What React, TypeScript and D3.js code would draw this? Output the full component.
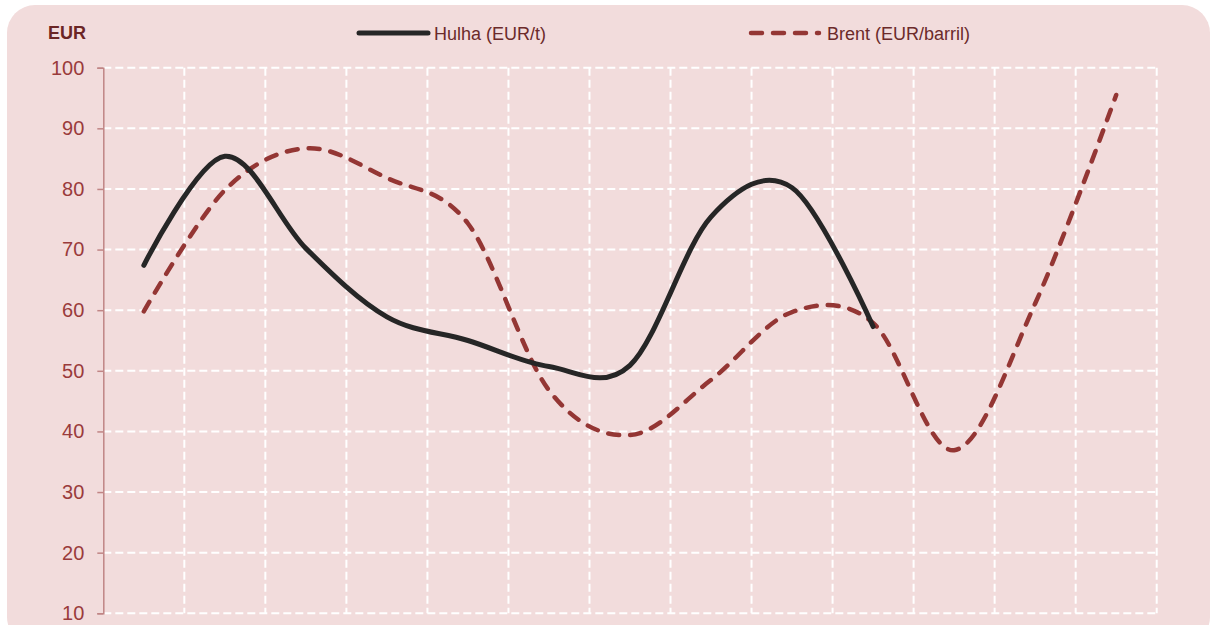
import React, { useEffect, useRef } from 'react';
import * as d3 from 'd3';

// periods along the x axis (the original shows no labels)
const periods = ['P1', 'P2', 'P3', 'P4', 'P5', 'P6', 'P7', 'P8', 'P9', 'P10', 'P11', 'P12', 'P13'];
const hulha = [67.4, 85.4, 70.2, 58.9, 55.0, 50.7, 50.9, 75.4, 80.2, 57.3];
const brent = [59.8, 79.8, 86.7, 81.8, 74.3, 46.8, 39.4, 48.5, 59.7, 57.9, 36.9, 61.1, 95.5];
const yTicks = [10, 20, 30, 40, 50, 60, 70, 80, 90, 100];

const W = 1214;
const H = 625;

export default function App() {
  const svgRef = useRef<SVGSVGElement | null>(null);

  useEffect(() => {
    const svg = d3.select(svgRef.current);
    svg.selectAll('*').remove();

    const x = d3.scaleBand().domain(periods).range([103.3, 1156.7]);
    const y = d3.scaleLinear().domain([10, 100]).range([613.3, 67.7]);
    const font = 'Liberation Sans, Arial, sans-serif';

    svg.append('rect')
      .attr('x', 7).attr('y', 5)
      .attr('width', 1203).attr('height', 640)
      .attr('rx', 28)
      .attr('fill', '#f2dcdc');

    const grid = svg.append('g');
    grid.selectAll('line.h')
      .data(yTicks)
      .join('line')
      .attr('x1', x.range()[0]).attr('x2', x.range()[1])
      .attr('y1', d => y(d)).attr('y2', d => y(d))
      .attr('stroke', '#ffffff').attr('stroke-width', 2)
      .attr('stroke-dasharray', '8,4');
    grid.selectAll('line.v')
      .data(periods)
      .join('line')
      .attr('x1', d => x(d)! + x.bandwidth()).attr('x2', d => x(d)! + x.bandwidth())
      .attr('y1', y(100)).attr('y2', y(10))
      .attr('stroke', '#ffffff').attr('stroke-width', 2)
      .attr('stroke-dasharray', '8,4');

    const axis = svg.append('g')
      .attr('transform', `translate(${x.range()[0]},0)`)
      .call(d3.axisLeft(y).tickValues(yTicks).tickSize(6).tickPadding(13));
    axis.select('.domain').attr('stroke', '#c08585').attr('stroke-width', 1.5);
    axis.selectAll('.tick line').attr('stroke', '#c08585').attr('stroke-width', 1.5);
    axis.selectAll('.tick text')
      .attr('fill', '#9a3b3b')
      .attr('font-family', font)
      .attr('font-size', 20);

    const line = d3.line<number>()
      .x((d, i) => x(periods[i])! + x.bandwidth() / 2)
      .y(d => y(d))
      .curve(d3.curveCardinal.tension(0));

    svg.append('path')
      .attr('d', line(brent))
      .attr('fill', 'none')
      .attr('stroke', '#943634')
      .attr('stroke-width', 4.5)
      .attr('stroke-linecap', 'round')
      .attr('stroke-dasharray', '11,11');

    svg.append('path')
      .attr('d', line(hulha))
      .attr('fill', 'none')
      .attr('stroke', '#262626')
      .attr('stroke-width', 5)
      .attr('stroke-linecap', 'round');

    svg.append('text')
      .attr('x', 48).attr('y', 38.5)
      .attr('font-family', font).attr('font-size', 18).attr('font-weight', 'bold')
      .attr('fill', '#6b2525')
      .text('EUR');

    svg.append('line')
      .attr('x1', 359).attr('x2', 428).attr('y1', 33).attr('y2', 33)
      .attr('stroke', '#262626').attr('stroke-width', 5).attr('stroke-linecap', 'round');
    svg.append('text')
      .attr('x', 434).attr('y', 39.5)
      .attr('font-family', font).attr('font-size', 18)
      .attr('fill', '#6b2a2a')
      .text('Hulha (EUR/t)');

    svg.append('line')
      .attr('x1', 751).attr('x2', 819).attr('y1', 33).attr('y2', 33)
      .attr('stroke', '#943634').attr('stroke-width', 4.5).attr('stroke-linecap', 'round')
      .attr('stroke-dasharray', '11,11');
    svg.append('text')
      .attr('x', 827).attr('y', 39.5)
      .attr('font-family', font).attr('font-size', 18)
      .attr('fill', '#6b2a2a')
      .text('Brent (EUR/barril)');
  }, []);

  return (
    <svg
      ref={svgRef}
      width={W}
      height={H}
      style={{ position: 'fixed', left: 0, top: 0, background: '#ffffff' }}
    />
  );
}
